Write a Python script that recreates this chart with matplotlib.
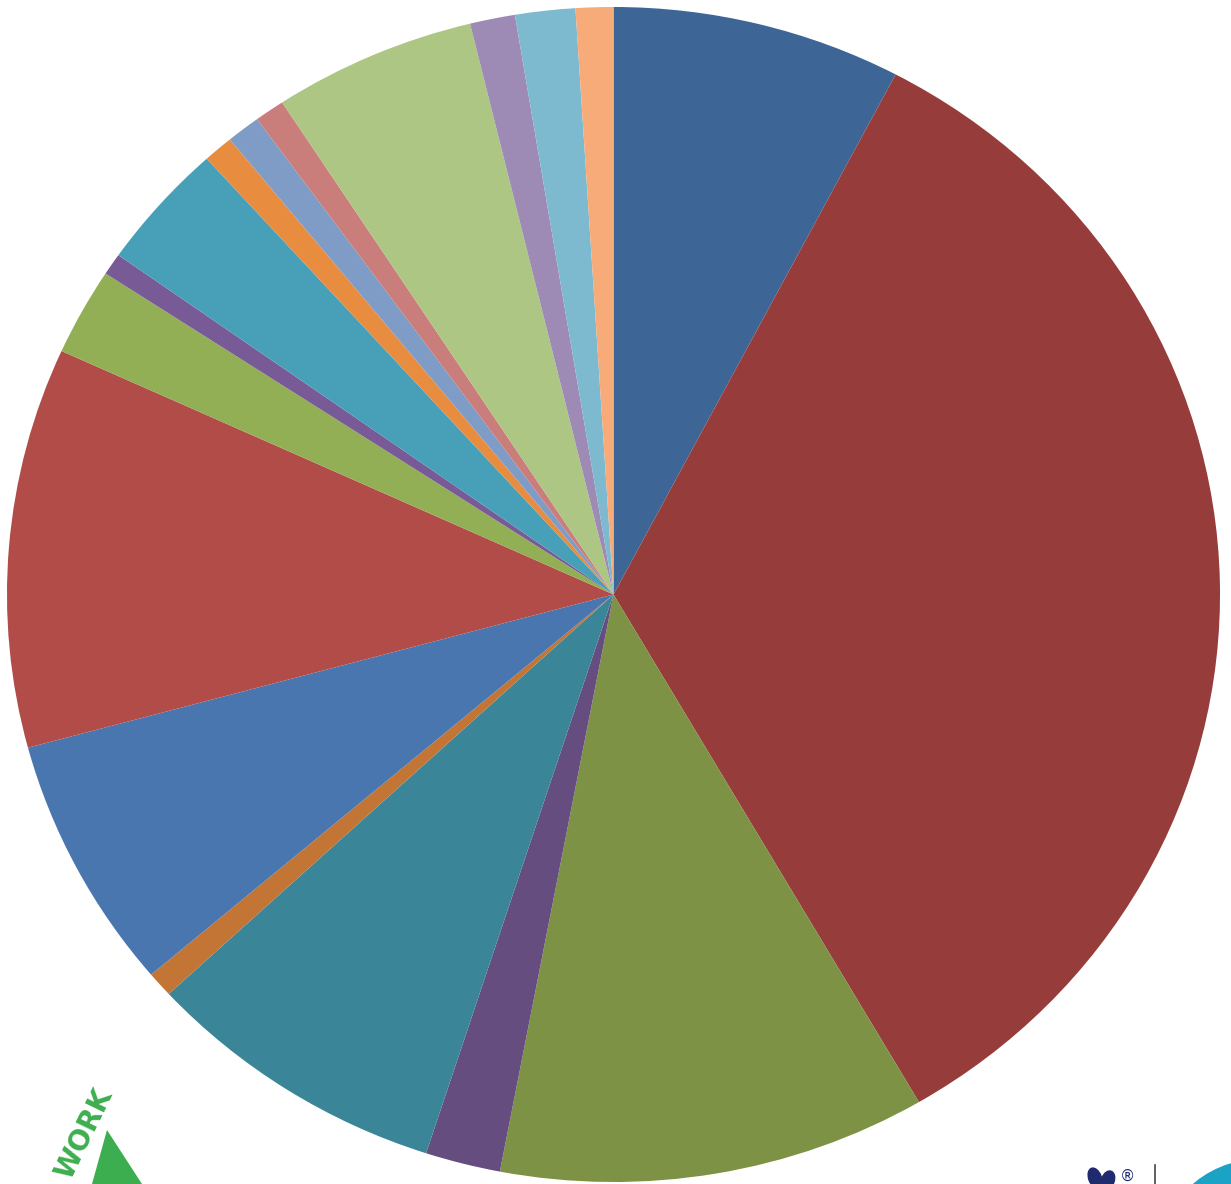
import matplotlib.pyplot as plt
from matplotlib.patches import Polygon, Circle, Ellipse

# slice shares (%), clockwise from 12 o'clock
shares = [7.7, 33.9, 11.4, 2.0, 8.1, 0.7, 7.0, 11.0, 2.4, 0.6,
          3.5, 0.8, 0.9, 0.8, 5.4, 1.2, 1.6, 1.0]
colors = ['#3D6696', '#963C3B', '#7D9245', '#654E7F', '#3A8698', '#C27535',
          '#4A76B0', '#B24C48', '#92AF56', '#775A96', '#48A0B8', '#E88D40',
          '#7F9CC7', '#C97E7C', '#AEC684', '#9D8BB5', '#7DBAD0', '#F7AB78']

W, H = 1231, 1184
fig = plt.figure(figsize=(W / 100, H / 100), dpi=100)
ax = fig.add_axes([0, 0, 1, 1])
ax.pie(shares, colors=colors, startangle=90, counterclock=False,
       wedgeprops=dict(linewidth=0))
# the source picture is slightly stretched sideways
ax.set_aspect('auto')
ax.set_xlim(-1.0115, 1.0181)
ax.set_ylim(-1.0034, 1.0119)
ax.axis('off')

# logo fragments along the bottom edge
ov = fig.add_axes([0, 0, 1, 1], facecolor='none')
ov.set_xlim(0, W)
ov.set_ylim(H, 0)
ov.axis('off')
ov.add_patch(Polygon([(107, 1130), (142, 1184), (92, 1184)], closed=True,
                     color='#3DAE4F', lw=0))
ov.text(84, 1134, 'WORK', color='#3DAE4F', fontsize=20, fontweight='bold',
        rotation=64, ha='center', va='center')
ov.add_patch(Ellipse((1095, 1178), 14, 22, angle=-20, color='#1F2B6E', lw=0))
ov.add_patch(Ellipse((1108, 1180), 14, 20, angle=20, color='#1F2B6E', lw=0))
ov.text(1128, 1176, '®', color='#1F2B6E', fontsize=11, ha='center', va='center')
ov.plot([1155, 1155], [1165, 1184], color='#444444', lw=1.2)
ov.add_patch(Circle((1260, 1262), 103, color='#1BA3C6', lw=0))

fig.savefig('out.png', dpi=100)
